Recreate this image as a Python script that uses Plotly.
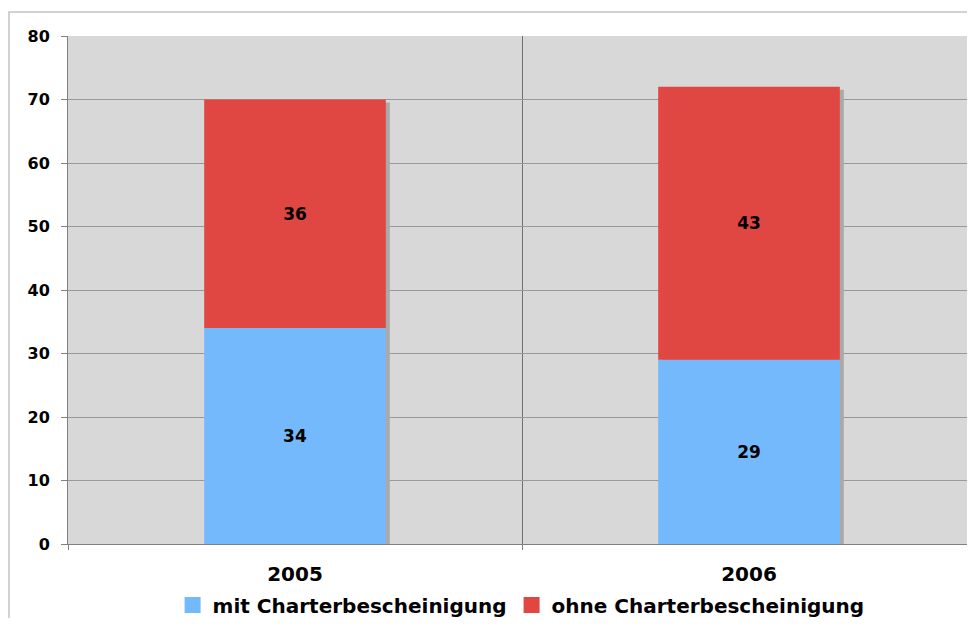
import plotly.graph_objects as go

years = ["2005", "2006"]
mit = [34, 29]
ohne = [36, 43]
totals = [a + b for a, b in zip(mit, ohne)]
y_ticks = [0, 10, 20, 30, 40, 50, 60, 70, 80]
series_names = ["mit Charterbescheinigung", "ohne Charterbescheinigung"]

BLUE = "#74b9fb"
RED = "#e04642"
FONT = "DejaVu Sans"
BAR_W = 0.4
PX_PER_CAT = 454          # pixel width of one category in the reference
PLOT_W = 959 - 60         # plot area width in px
dx = 4 / PX_PER_CAT       # shadow shift in category units (~4px)
dy = 3 / 6.35             # shadow shift in value units (~3px)

fig = go.Figure()

# shadow behind bars
fig.add_trace(go.Bar(
    x=years, y=totals, base=[-dy] * len(years), width=BAR_W,
    offset=-BAR_W / 2 + dx, marker=dict(color="#a9a9a9", line=dict(width=0)),
    showlegend=False, hoverinfo="skip",
))
fig.add_trace(go.Bar(
    x=years, y=mit, name=series_names[0], width=BAR_W, showlegend=False,
    marker=dict(color=BLUE, line=dict(width=0)),
    text=[str(v) for v in mit], textposition="inside", insidetextanchor="middle",
    textfont=dict(family=FONT, size=17, color="black", weight="bold"),
))
fig.add_trace(go.Bar(
    x=years, y=ohne, base=mit, name=series_names[1], width=BAR_W, showlegend=False,
    marker=dict(color=RED, line=dict(width=0)),
    text=[str(v) for v in ohne], textposition="inside", insidetextanchor="middle",
    textfont=dict(family=FONT, size=17, color="black", weight="bold"),
))
# legend entries with larger square swatches
for nm, col in zip(series_names, [BLUE, RED]):
    fig.add_trace(go.Scatter(
        x=[None], y=[None], mode="markers", name=nm,
        marker=dict(symbol="square", size=16, color=col),
    ))

for yr, t in zip(years, totals):
    fig.add_annotation(x=yr, y=75, text=f"Gesamt: {t}", showarrow=False,
                       font=dict(family=FONT, size=18, color="black", weight="bold"))

# outer chart border
fig.add_shape(type="rect", xref="paper", yref="paper",
              x0=-0.0656, x1=1.2, y0=-0.3, y1=1.047,
              line=dict(color="#d2d2d2", width=2), fillcolor="rgba(0,0,0,0)", layer="below")

fig.update_layout(
    width=959, height=610,
    margin=dict(l=60, r=0, t=28, b=74, autoexpand=False),
    paper_bgcolor="white", plot_bgcolor="#d8d8d8",
    barmode="overlay",
    font=dict(family=FONT, color="black"),
    showlegend=True,
    legend=dict(orientation="h", x=0.504, xanchor="center", y=-0.12, yanchor="middle",
                font=dict(family=FONT, size=20, color="black", weight="bold"),
                itemwidth=30, traceorder="normal", bgcolor="rgba(0,0,0,0)"),
    xaxis=dict(type="category", range=[-0.5, -0.5 + PLOT_W / PX_PER_CAT],
               tickson="boundaries",
               ticks="outside", ticklen=5, tickcolor="#808080",
               showgrid=True, gridcolor="#707070", gridwidth=1,
               showline=True, linecolor="#808080", linewidth=1,
               ticklabelstandoff=12,
               tickfont=dict(family=FONT, size=20, color="black", weight="bold")),
    yaxis=dict(range=[0, 80], tickvals=y_ticks, ticktext=[str(v) for v in y_ticks],
               ticks="outside", ticklen=6, tickcolor="#808080",
               showgrid=True, gridcolor="#999999", gridwidth=1,
               showline=True, linecolor="#808080", linewidth=1, zeroline=False,
               ticklabelstandoff=8,
               tickfont=dict(family=FONT, size=16, color="black", weight="bold")),
)

fig.write_html("out.html")
